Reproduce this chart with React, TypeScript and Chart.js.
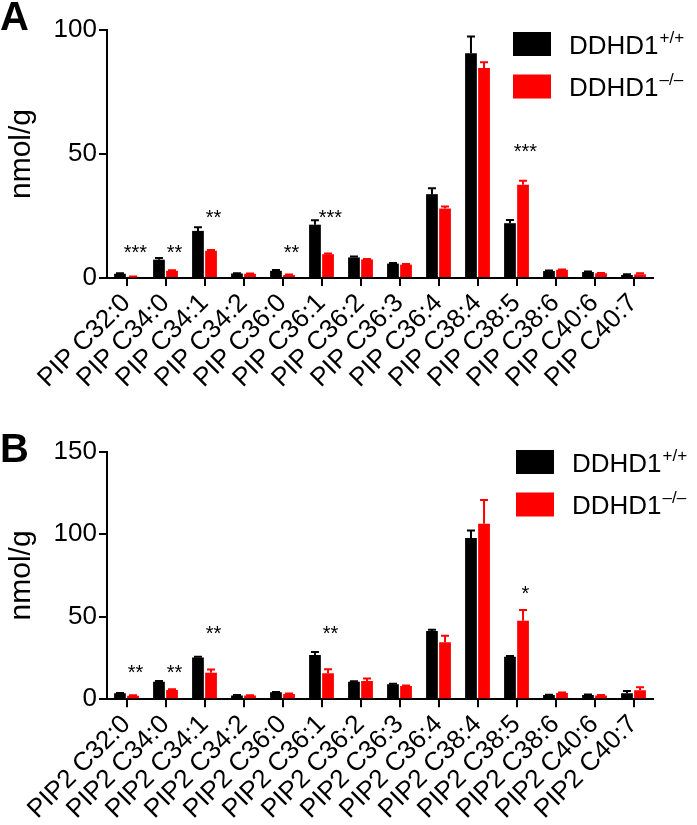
import React, { useEffect, useRef } from "react";
import { Chart, registerables } from "chart.js";

Chart.register(...registerables);

const categoriesA = ["PIP C32:0", "PIP C34:0", "PIP C34:1", "PIP C34:2", "PIP C36:0", "PIP C36:1", "PIP C36:2", "PIP C36:3", "PIP C36:4", "PIP C38:4", "PIP C38:5", "PIP C38:6", "PIP C40:6", "PIP C40:7"];
const wtA = [1.7, 7.4, 19, 1.8, 2.9, 21.5, 8.3, 5.8, 33.8, 90.6, 22.1, 2.8, 2.4, 1.2];
const wtErrA = [0.2, 0.7, 1.5, 0.1, 0.3, 1.8, 0.4, 0.2, 2.4, 6.8, 1.3, 0.2, 0.2, 0.3];
const koA = [0.5, 2.9, 11, 1.7, 1.2, 9.6, 7.5, 5.4, 28, 84.7, 37.6, 3.3, 1.9, 1.5];
const koErrA = [0.1, 0.2, 0.3, 0.1, 0.2, 0.3, 0.2, 0.2, 0.8, 2.3, 1.6, 0.1, 0.1, 0.4];
const starsA = ["***", "**", "**", "", "**", "***", "", "", "", "", "***", "", "", ""];
const starLevelA = [12.3, 12.3, 26.3, 0, 12.3, 26.3, 0, 0, 0, 0, 53, 0, 0, 0];
const yTicksA = [0, 50, 100];

const categoriesB = ["PIP2 C32:0", "PIP2 C34:0", "PIP2 C34:1", "PIP2 C34:2", "PIP2 C36:0", "PIP2 C36:1", "PIP2 C36:2", "PIP2 C36:3", "PIP2 C36:4", "PIP2 C38:4", "PIP2 C38:5", "PIP2 C38:6", "PIP2 C40:6", "PIP2 C40:7"];
const wtB = [3.6, 10.6, 25.2, 2.3, 4.2, 26.8, 10.6, 9, 41.3, 97.7, 25.8, 2.5, 2.5, 3.6];
const wtErrB = [0.2, 0.5, 0.5, 0.2, 0.2, 1.8, 0.3, 0.3, 0.8, 4.6, 0.4, 0.2, 0.3, 1.4];
const koB = [2.1, 5.6, 16, 2.3, 3.2, 15.7, 11, 8, 34.5, 106.4, 47.6, 3.8, 2.3, 5.4];
const koErrB = [0.3, 0.4, 2, 0.1, 0.3, 2.4, 1.6, 0.3, 4, 14.3, 6.4, 0.3, 0.3, 1.8];
const starsB = ["**", "**", "**", "", "", "**", "", "", "", "", "*", "", "", ""];
const starLevelB = [19, 19, 42.7, 0, 0, 42.7, 0, 0, 0, 0, 67, 0, 0, 0];
const yTicksB = [0, 50, 100, 150];

const seriesNames = ["DDHD1", "DDHD1"];
const seriesSup = ["+/+", "\u2013/\u2013"];

const FONT = "'Liberation Sans', Arial, Helvetica, sans-serif";
const BLACK = "#000000";
const RED = "#ff0000";

type PanelCfg = {
  letter: string;
  labels: string[];
  wt: number[];
  wtErr: number[];
  ko: number[];
  koErr: number[];
  stars: string[];
  starLevel: number[];
  yTicks: number[];
  height: number;
  padTop: number;
  xAxisHeight: number;
  letterBaseline: number;
  legendTop: number;
  legendLeft: number;
};

function makePlugin(cfg: PanelCfg) {
  return {
    id: "panelExtras" + cfg.letter,
    afterDatasetsDraw(chart: any) {
      const ctx = chart.ctx;
      const yScale = chart.scales.y;
      const xScale = chart.scales.x;
      const errs = [cfg.wtErr, cfg.koErr];
      const vals = [cfg.wt, cfg.ko];
      ctx.save();
      // error bars
      [0, 1].forEach((di) => {
        const meta = chart.getDatasetMeta(di);
        const color = di === 0 ? BLACK : RED;
        meta.data.forEach((el: any, i: number) => {
          const top = yScale.getPixelForValue(vals[di][i] + errs[di][i]);
          ctx.strokeStyle = color;
          ctx.lineWidth = 2;
          ctx.beginPath();
          ctx.moveTo(el.x, el.y);
          ctx.lineTo(el.x, top);
          ctx.moveTo(el.x - 4, top);
          ctx.lineTo(el.x + 4, top);
          ctx.stroke();
        });
      });
      // stars
      const catW = (xScale.right - xScale.left) / cfg.labels.length;
      ctx.fillStyle = BLACK;
      ctx.font = `20px ${FONT}`;
      ctx.textAlign = "center";
      ctx.textBaseline = "alphabetic";
      cfg.stars.forEach((s, i) => {
        if (!s) return;
        const x = xScale.getPixelForValue(i) + 0.23 * catW;
        const y = yScale.getPixelForValue(cfg.starLevel[i]) + 11.5;
        ctx.fillText(s, x, y);
      });
      // panel letter
      ctx.font = `bold 40px ${FONT}`;
      ctx.textAlign = "left";
      ctx.fillText(cfg.letter, 0, cfg.letterBaseline);
      // y title
      ctx.save();
      ctx.font = `30px ${FONT}`;
      ctx.textAlign = "center";
      ctx.textBaseline = "middle";
      ctx.translate(22, (chart.chartArea.top + chart.chartArea.bottom) / 2);
      ctx.rotate(-Math.PI / 2);
      ctx.fillText("nmol/g", 0, 0);
      ctx.restore();
      // legend
      [0, 1].forEach((k) => {
        const bx = cfg.legendLeft;
        const by = cfg.legendTop + k * 42.5;
        ctx.fillStyle = k === 0 ? BLACK : RED;
        ctx.fillRect(bx, by, 38, 24);
        ctx.fillStyle = BLACK;
        ctx.font = `26px ${FONT}`;
        ctx.textAlign = "left";
        ctx.textBaseline = "alphabetic";
        const tx = bx + 56;
        const ty = by + 21.5;
        ctx.fillText(seriesNames[k], tx, ty);
        const w = ctx.measureText(seriesNames[k]).width;
        ctx.font = `17px ${FONT}`;
        ctx.fillText(seriesSup[k], tx + w + 1, ty - 11);
      });
      ctx.restore();
    },
  };
}

function Panel({ cfg }: { cfg: PanelCfg }) {
  const ref = useRef<HTMLCanvasElement | null>(null);
  useEffect(() => {
    if (!ref.current) return;
    const chart = new Chart(ref.current, {
      type: "bar",
      data: {
        labels: cfg.labels,
        datasets: [
          {
            label: seriesNames[0] + seriesSup[0],
            data: cfg.wt,
            backgroundColor: BLACK,
            borderColor: BLACK,
            borderWidth: 0,
            barPercentage: 0.9,
            categoryPercentage: 0.67,
          },
          {
            label: seriesNames[1] + seriesSup[1],
            data: cfg.ko,
            backgroundColor: RED,
            borderColor: RED,
            borderWidth: 0,
            barPercentage: 0.9,
            categoryPercentage: 0.67,
          },
        ],
      },
      options: {
        responsive: false,
        animation: false,
        devicePixelRatio: 1,
        layout: { padding: { top: cfg.padTop, right: 44, left: 0, bottom: 0 } },
        plugins: { legend: { display: false }, tooltip: { enabled: false } },
        scales: {
          x: {
            offset: true,
            grid: { offset: false, drawOnChartArea: false, drawTicks: true, tickLength: 8, color: BLACK, lineWidth: 2 },
            border: { display: true, color: BLACK, width: 2 },
            ticks: {
              autoSkip: false,
              minRotation: 45,
              maxRotation: 45,
              color: BLACK,
              padding: 2,
              font: { family: FONT, size: 26 },
            },
            afterFit: (scale: any) => {
              scale.height = cfg.xAxisHeight;
            },
          },
          y: {
            min: 0,
            max: cfg.yTicks[cfg.yTicks.length - 1],
            afterBuildTicks: (scale: any) => {
              scale.ticks = cfg.yTicks.map((v) => ({ value: v }));
            },
            grid: { drawOnChartArea: false, drawTicks: true, tickLength: 8, color: BLACK, lineWidth: 2 },
            border: { display: true, color: BLACK, width: 2 },
            ticks: { color: BLACK, padding: 2, font: { family: FONT, size: 26 } },
            afterFit: (scale: any) => {
              scale.width = 107;
            },
          },
        },
      },
      plugins: [makePlugin(cfg)],
    } as any);
    return () => chart.destroy();
  }, [cfg]);
  return <canvas ref={ref} width={697} height={cfg.height} style={{ display: "block", width: 697, height: cfg.height }} />;
}

const cfgA: PanelCfg = {
  letter: "A",
  labels: categoriesA,
  wt: wtA,
  wtErr: wtErrA,
  ko: koA,
  koErr: koErrA,
  stars: starsA,
  starLevel: starLevelA,
  yTicks: yTicksA,
  height: 410,
  padTop: 30,
  xAxisHeight: 132,
  letterBaseline: 30,
  legendTop: 32,
  legendLeft: 513,
};

const cfgB: PanelCfg = {
  letter: "B",
  labels: categoriesB,
  wt: wtB,
  wtErr: wtErrB,
  ko: koB,
  koErr: koErrB,
  stars: starsB,
  starLevel: starLevelB,
  yTicks: yTicksB,
  height: 415,
  padTop: 41.7,
  xAxisHeight: 125.8,
  letterBaseline: 52,
  legendTop: 40,
  legendLeft: 516,
};

export default function App() {
  useEffect(() => {
    document.body.style.margin = "0";
  }, []);
  return (
    <div style={{ position: "relative", width: 697, height: 825, background: "#fff" }}>
      <Panel cfg={cfgA} />
      <Panel cfg={cfgB} />
    </div>
  );
}
